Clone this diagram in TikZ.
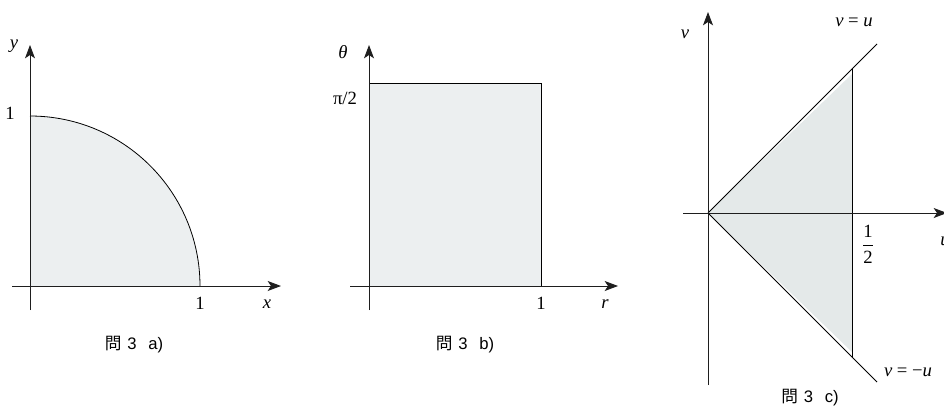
\documentclass[tikz,border=0pt]{standalone}
\usepackage{fontspec}
\setmainfont{Liberation Serif}
\newfontfamily\cjk{Noto Sans CJK JP}
\newfontfamily\capsans{Liberation Sans}
\usetikzlibrary{arrows.meta}
\definecolor{fillA}{RGB}{236,239,240}
\definecolor{fillC}{RGB}{228,233,233}
\definecolor{axcol}{RGB}{30,30,30}
\newcommand{\captxtof}[1]{{\cjk 問}\hspace{0.35em}{\capsans 3\hspace{0.7em}#1)}}
\begin{document}
\begin{tikzpicture}[x=0.75pt,y=-0.75pt,
  axis/.style={draw=axcol,line width=0.7pt,-{Stealth[length=10pt,width=7.5pt,inset=2.5pt]}},
  edge/.style={draw=black,line width=0.6pt},
  lbl/.style={inner sep=0pt,font=\fontsize{14}{16}\selectfont},
  captxt/.style={inner sep=0pt,font=\fontsize{12.5}{14}\selectfont}]
\useasboundingbox (0,0) rectangle (944,414);
% ---------- panel a
\coordinate (Oa) at (30,286);
\coordinate (Xa) at (200,286);
\coordinate (Ya) at (30,116);
\fill[fillA] (Oa) -- (Xa) arc[start angle=0,end angle=90,radius=127.5pt] -- cycle;
\draw[edge] (Xa) arc[start angle=0,end angle=90,radius=127.5pt];
\coordinate (axa1) at (12,286); \coordinate (axa2) at (281,286);
\coordinate (aya1) at (30,310); \coordinate (aya2) at (30,45);
\draw[axis] (axa1) -- (axa2);
\draw[axis] (aya1) -- (aya2);
\node[lbl] (ya) at (14,46) {\textit{y}};
\node[lbl] (one1) at (10,113) {1};
\node[lbl] (one2) at (200,303) {1};
\node[lbl] (xa) at (267,304) {\textit{x}};
\node[captxt] (capa) at (134,345) {\captxtof{a}};
% ---------- panel b
\coordinate (Ob) at (369,286);
\coordinate (Rb) at (541,83);
\fill[fillA] (Ob) rectangle (Rb);
\draw[edge] (Ob) rectangle (Rb);
\coordinate (axb1) at (350,286); \coordinate (axb2) at (618,286);
\coordinate (ayb1) at (369,310); \coordinate (ayb2) at (369,45);
\draw[axis] (axb1) -- (axb2);
\draw[axis] (ayb1) -- (ayb2);
\node[lbl] (th) at (343,52) {\textit{θ}};
\node[lbl] (pi2) at (345,98) {π/2};
\node[lbl] (one3) at (541,303) {1};
\node[lbl] (rb) at (605,304) {\textit{r}};
\node[captxt] (capb) at (465,345) {\captxtof{b}};
% ---------- panel c
\coordinate (Oc) at (708,213);
\coordinate (Tc) at (852,69);
\coordinate (Bc) at (852,357);
\coordinate (Ec1) at (877,44);
\coordinate (Ec2) at (877,382);
\fill[fillC] (Oc) -- (852,74) -- (852,352) -- cycle;
\draw[edge] (Oc) -- (Ec1);
\draw[edge] (Oc) -- (Ec2);
\draw[edge] (Tc) -- (Bc);
\coordinate (axc1) at (683,213); \coordinate (axc2) at (947,213);
\coordinate (ayc1) at (708,385); \coordinate (ayc2) at (708,12);
\draw[axis] (axc1) -- (axc2);
\draw[axis] (ayc1) -- (ayc2);
\node[lbl] (vc) at (685,34) {\textit{v}};
\node[lbl] (vu) at (854,22) {\textit{v} = \textit{u}};
\node[lbl] (half) at (868,244) {$\displaystyle\frac{\mbox{1}}{\mbox{2}}$};
\node[lbl] (uc) at (945,241) {\textit{u}};
\node[lbl] (vmu) at (908,372) {\textit{v} = −\textit{u}};
\node[captxt] (capc) at (810,398) {\captxtof{c}};
\end{tikzpicture}
\end{document}
